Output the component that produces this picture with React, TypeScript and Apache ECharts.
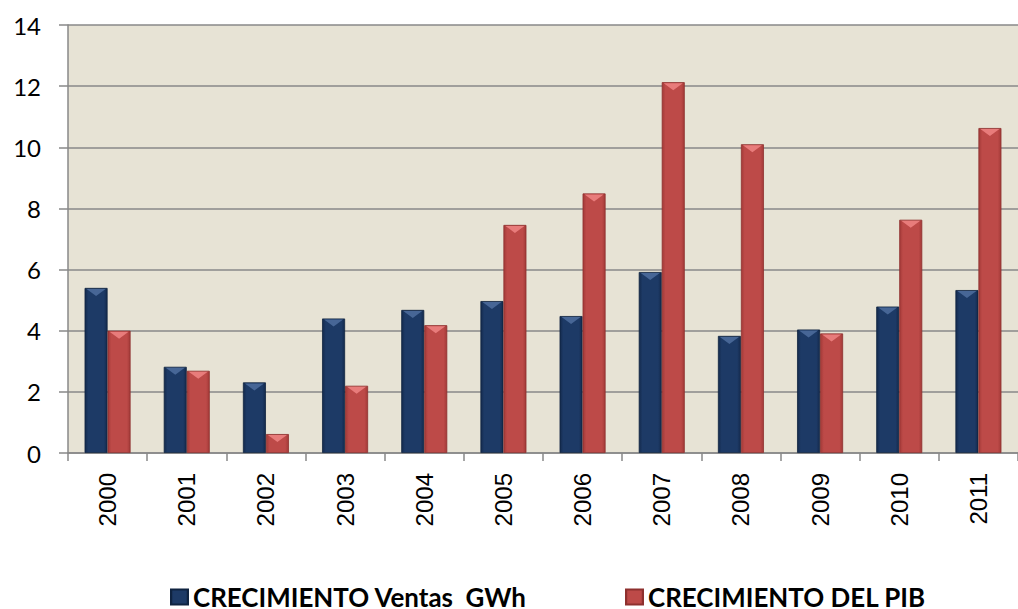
import React, { useEffect, useRef } from "react";
import * as echarts from "echarts";

const years = ["2000", "2001", "2002", "2003", "2004", "2005", "2006", "2007", "2008", "2009", "2010", "2011"];
const ventas = [5.4, 2.82, 2.31, 4.4, 4.68, 4.97, 4.48, 5.92, 3.83, 4.04, 4.79, 5.33];
const pib = [4.0, 2.69, 0.62, 2.2, 4.18, 7.46, 8.49, 12.13, 10.1, 3.91, 7.63, 10.63];
const seriesNames = ["CRECIMIENTO Ventas  GWh", "CRECIMIENTO DEL PIB"];

const BAR_W = 23;

const blueFill = new echarts.graphic.LinearGradient(0, 0, 1, 0, [
  { offset: 0, color: "#142a4d" },
  { offset: 0.15, color: "#1d3a66" },
  { offset: 0.85, color: "#1d3a66" },
  { offset: 1, color: "#142a4d" },
]);
const redFill = new echarts.graphic.LinearGradient(0, 0, 1, 0, [
  { offset: 0, color: "#a33a38" },
  { offset: 0.15, color: "#bd4a48" },
  { offset: 0.85, color: "#bd4a48" },
  { offset: 1, color: "#a33a38" },
]);

function fitFontSize(text: string, target: number, family: string): number {
  try {
    const c = document.createElement("canvas").getContext("2d");
    if (!c) return 24;
    c.font = `bold 100px ${family}`;
    const w = c.measureText(text).width;
    if (!w) return 24;
    return Math.max(18, Math.min(28, (100 * target) / w));
  } catch (e) {
    return 24;
  }
}

function bevelSeries(values: number[], side: number, color: string) {
  return {
    type: "custom",
    silent: true,
    z: 5,
    data: values.map((v, i) => [i, v]),
    encode: { x: 0, y: 1 },
    renderItem: (params: any, api: any) => {
      const p = api.coord([api.value(0), api.value(1)]);
      const x0 = side < 0 ? p[0] - BAR_W : p[0];
      const x1 = x0 + BAR_W;
      const y = p[1];
      return {
        type: "polygon",
        shape: {
          points: [
            [x0 + 2, y + 1],
            [x1 - 2, y + 1],
            [(x0 + x1) / 2, y + 8],
          ],
        },
        style: { fill: color, opacity: 0.85 },
      };
    },
  };
}

export default function App() {
  const ref = useRef<HTMLDivElement>(null);
  useEffect(() => {
    const chart = echarts.init(ref.current!, null, { renderer: "svg" });
    const legFont = "Lato";
    const legSize = fitFontSize(seriesNames[0], 334, legFont);
    const legendCommon = {
      top: 584,
      icon: "rect",
      itemWidth: 17,
      itemHeight: 15,
      itemGap: 0,
      padding: 0,
      textStyle: {
        fontFamily: legFont,
        fontWeight: "bold",
        fontSize: legSize,
        lineHeight: 18,
        color: "#000",
      },
    };
    chart.setOption({
      animation: false,
      backgroundColor: "#ffffff",
      grid: {
        left: 68,
        right: 0,
        top: 25,
        bottom: 156,
        containLabel: false,
        show: true,
        backgroundColor: "#E7E3D5",
        borderWidth: 0,
      },
      legend: [
        { ...legendCommon, data: [seriesNames[0]], left: 170 },
        { ...legendCommon, data: [seriesNames[1]], left: 625 },
      ],
      xAxis: {
        type: "category",
        data: years,
        boundaryGap: true,
        axisLine: { show: true, lineStyle: { color: "#888888", width: 1.5 } },
        axisTick: { show: true, length: 8, lineStyle: { color: "#888888", width: 1.5 } },
        axisLabel: {
          rotate: 90,
          margin: 20,
          fontFamily: "Liberation Sans",
          fontSize: 24,
          color: "#000",
        },
      },
      yAxis: {
        type: "value",
        min: 0,
        max: 14,
        interval: 2,
        axisLine: { show: true, lineStyle: { color: "#888888", width: 1.5 } },
        axisTick: { show: true, length: 9, lineStyle: { color: "#888888", width: 1.5 } },
        axisLabel: {
          margin: 27,
          fontFamily: "Lato",
          fontSize: 24,
          color: "#000",
        },
        splitLine: { show: true, lineStyle: { color: "#888888", width: 1.5 } },
      },
      series: [
        {
          name: seriesNames[0],
          type: "bar",
          data: ventas,
          barWidth: BAR_W,
          barGap: "0%",
          itemStyle: { color: blueFill, borderColor: "#0f2340", borderWidth: 0.8 },
        },
        {
          name: seriesNames[1],
          type: "bar",
          data: pib,
          barWidth: BAR_W,
          barGap: "0%",
          itemStyle: { color: redFill, borderColor: "#8e302e", borderWidth: 0.8 },
        },
        bevelSeries(ventas, -1, "#4f6f9f"),
        bevelSeries(pib, 1, "#f08585"),
      ],
    });
    return () => chart.dispose();
  }, []);
  return (
    <div
      ref={ref}
      style={{ position: "absolute", left: 0, top: 0, width: 1018, height: 609 }}
    />
  );
}
